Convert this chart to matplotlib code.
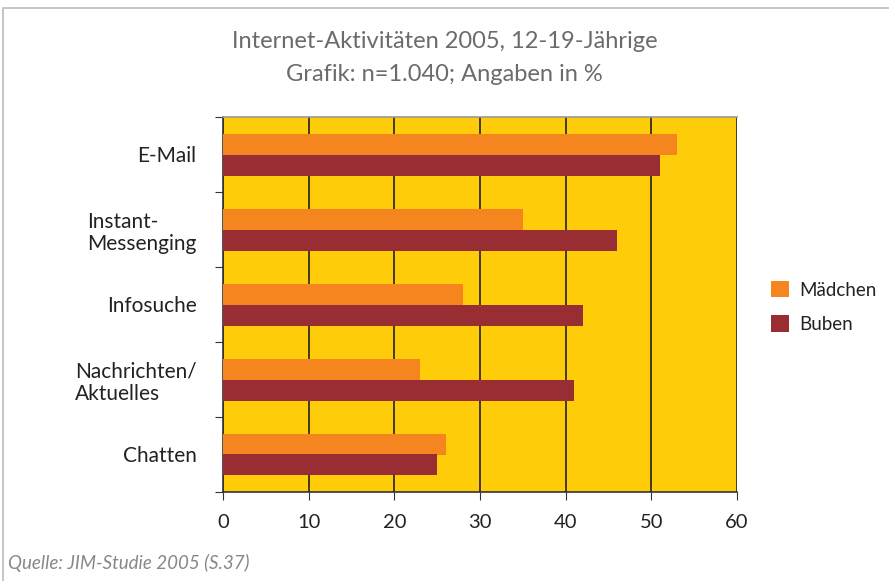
import numpy as np
import matplotlib.pyplot as plt
from matplotlib.patches import Rectangle

categories = ['E-Mail', 'Instant-\nMessenging', 'Infosuche', 'Nachrichten/\nAktuelles', 'Chatten']
maedchen = [53, 35, 28, 23, 26]
buben = [51, 46, 42, 41, 25]
x_ticks = [0, 10, 20, 30, 40, 50, 60]

orange = '#f4851f'
darkred = '#982d33'
yellow = '#ffcc0a'
gray = '#6b6b6b'

plt.rcParams['font.family'] = ['Lato', 'DejaVu Sans']

fig = plt.figure(figsize=(8.89, 5.81), dpi=100)
# frame round the chart (only left and top edges fall inside the picture)
fig.patches.append(Rectangle((3/889, -0.1), 1, 1.1 - 8/581, transform=fig.transFigure,
                             fill=False, edgecolor='#bbbbbb', linewidth=1.2))

ax = fig.add_axes([223/889, 1 - 492/581, (737-223)/889, (492-117)/581])
ax.set_facecolor(yellow)

y = np.arange(len(categories))
h = 0.28
ax.barh(y - h/2, maedchen, height=h, color=orange, label='Mädchen', zorder=3)
ax.barh(y + h/2, buben, height=h, color=darkred, label='Buben', zorder=3)

ax.set_xlim(0, 60)
ax.set_ylim(len(categories) - 0.5, -0.5)
ax.set_xticks(x_ticks)
ax.set_xticklabels([str(t) for t in x_ticks], fontsize=14.5, color='#222222')
ax.xaxis.grid(True, color='#222222', linewidth=1.2, zorder=1)
ax.set_axisbelow(True)

ax.set_yticks(np.arange(-0.5, len(categories)), minor=False)
ax.set_yticklabels([])
ax.set_yticks(y, minor=True)
ax.set_yticklabels(categories, minor=True, fontsize=15, color='#222222',
                   multialignment='left', linespacing=1.15)
ax.tick_params(axis='y', which='minor', length=0, pad=19)
ax.tick_params(axis='y', which='major', length=6, direction='out', color='#333333')
ax.tick_params(axis='x', length=6, direction='out', color='#333333', pad=10)

ax.spines['left'].set_color('#333333')
ax.spines['bottom'].set_color('#333333')
ax.spines['top'].set_color('#999999')
ax.spines['right'].set_visible(False)
for s in ['left', 'bottom', 'top']:
    ax.spines[s].set_linewidth(1.2)

fig.text(0.5, 1 - 42/581, 'Internet-Aktivitäten 2005, 12-19-Jährige', ha='center',
         va='center', fontsize=17, color=gray)
fig.text(0.5, 1 - 74/581, 'Grafik: n=1.040; Angaben in %', ha='center',
         va='center', fontsize=17, color=gray)

leg = ax.legend(loc='center left', bbox_to_anchor=(754/889, 1 - 307/581),
                bbox_transform=fig.transFigure, frameon=False, fontsize=13.5,
                handlelength=0.95, handleheight=0.95, handletextpad=0.55,
                labelspacing=0.9)
for t in leg.get_texts():
    t.set_color('#222222')

fig.text(8/889, 1 - 563/581, 'Quelle: JIM-Studie 2005 (S.37)', ha='left', va='center',
         fontsize=13.5, color='#888888', style='italic')

fig.savefig('out.png', dpi=100)
